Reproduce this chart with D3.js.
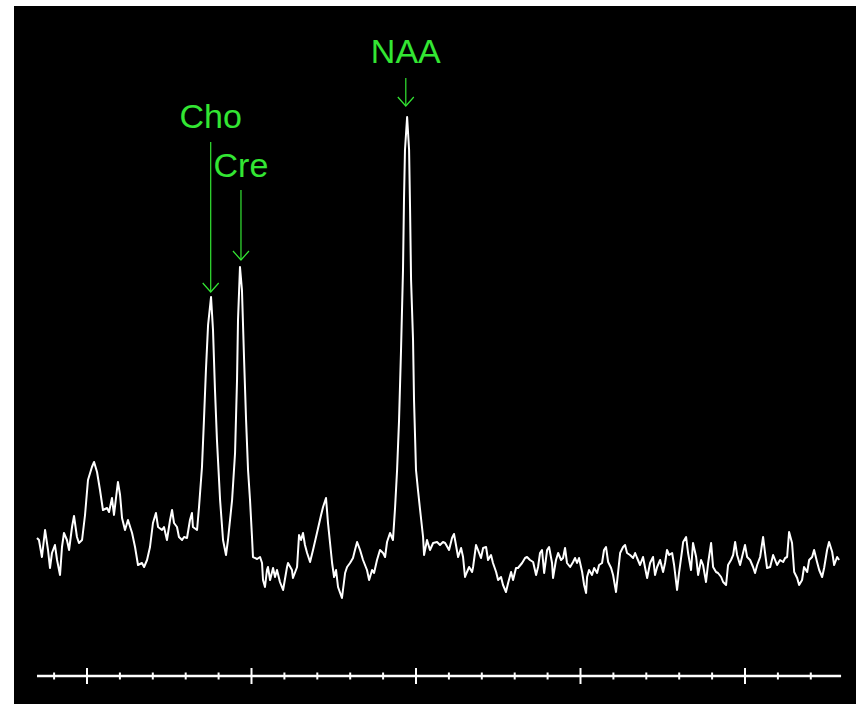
<!DOCTYPE html>
<html lang="en">

<head>
	<script src='https://d3js.org/d3.v7.min.js'></script>
</head>

<body>
	<style>
		body {
			margin: 0;
			background-color: white;
		}
		svg {
			display: block;
		}
	</style>
	<script>
    // MR spectrum, chemical shift in ppm, intensity in arbitrary units
    var shiftPpm = [
        4.304, 4.292, 4.274, 4.255, 4.237, 4.225, 4.213, 4.195, 4.182, 4.164,
        4.152, 4.140, 4.122, 4.109, 4.091, 4.079, 4.061, 4.049, 4.030, 4.012,
        3.994, 3.970, 3.957, 3.939, 3.921, 3.903, 3.878, 3.866, 3.848, 3.836,
        3.818, 3.812, 3.799, 3.787, 3.769, 3.751, 3.726, 3.708, 3.690, 3.666,
        3.653, 3.635, 3.617, 3.599, 3.581, 3.568, 3.544, 3.532, 3.514, 3.495,
        3.483, 3.471, 3.453, 3.441, 3.422, 3.410, 3.392, 3.374, 3.362, 3.356,
        3.331, 3.319, 3.301, 3.289, 3.277, 3.264, 3.246, 3.234, 3.222, 3.210,
        3.191, 3.173, 3.155, 3.143, 3.118, 3.100, 3.088, 3.082, 3.070, 3.058,
        3.045, 3.033, 3.021, 3.009, 2.997, 2.991, 2.966, 2.948, 2.936, 2.930,
        2.918, 2.906, 2.900, 2.887, 2.869, 2.857, 2.845, 2.827, 2.808, 2.784,
        2.778, 2.754, 2.748, 2.723, 2.711, 2.699, 2.687, 2.675, 2.662, 2.644,
        2.626, 2.602, 2.577, 2.565, 2.547, 2.535, 2.510, 2.498, 2.486, 2.474,
        2.450, 2.444, 2.431, 2.419, 2.401, 2.383, 2.371, 2.358, 2.340, 2.322,
        2.298, 2.285, 2.267, 2.255, 2.237, 2.219, 2.200, 2.188, 2.176, 2.158,
        2.140, 2.127, 2.115, 2.103, 2.091, 2.079, 2.073, 2.067, 2.054, 2.042,
        2.036, 2.030, 2.018, 2.012, 2.000, 1.988, 1.975, 1.957, 1.951, 1.933,
        1.915, 1.896, 1.872, 1.854, 1.836, 1.823, 1.799, 1.781, 1.769, 1.757,
        1.744, 1.726, 1.714, 1.702, 1.690, 1.677, 1.659, 1.653, 1.635, 1.623,
        1.605, 1.592, 1.574, 1.562, 1.544, 1.532, 1.513, 1.501, 1.483, 1.471,
        1.453, 1.440, 1.422, 1.410, 1.392, 1.380, 1.355, 1.337, 1.325, 1.307,
        1.288, 1.270, 1.258, 1.246, 1.234, 1.221, 1.203, 1.191, 1.173, 1.167,
        1.149, 1.136, 1.118, 1.106, 1.094, 1.082, 1.063, 1.045, 1.033, 1.021,
        1.009, 0.990, 0.978, 0.966, 0.960, 0.948, 0.930, 0.917, 0.899, 0.887,
        0.869, 0.857, 0.845, 0.832, 0.814, 0.802, 0.784, 0.772, 0.759, 0.741,
        0.729, 0.717, 0.699, 0.680, 0.668, 0.656, 0.638, 0.620, 0.607, 0.595,
        0.577, 0.559, 0.547, 0.534, 0.516, 0.498, 0.486, 0.474, 0.461, 0.443,
        0.431, 0.413, 0.401, 0.382, 0.376, 0.358, 0.346, 0.328, 0.316, 0.297,
        0.285, 0.267, 0.255, 0.237, 0.224, 0.206, 0.194, 0.176, 0.164, 0.145,
        0.133, 0.115, 0.103, 0.085, 0.072, 0.060, 0.048, 0.030, 0.012, 0.000,
        -0.013, -0.031, -0.049, -0.061, -0.074, -0.092, -0.110, -0.122, -0.134, -0.153,
        -0.171, -0.183, -0.195, -0.213, -0.232, -0.244, -0.256, -0.268, -0.286, -0.299,
        -0.317, -0.329, -0.347, -0.359, -0.378, -0.390, -0.408, -0.420, -0.438, -0.451,
        -0.469, -0.481, -0.499, -0.511, -0.530, -0.542, -0.560, -0.572
    ];
    var intensity = [
        10.2, 10.0, 8.3, 11.0, 9.0, 7.2, 8.7, 9.5, 8.0, 6.5,
        9.3, 10.7, 10.0, 9.0, 11.3, 12.4, 10.3, 9.7, 10.0, 12.5,
        16.0, 17.3, 17.8, 16.8, 15.0, 13.0, 13.2, 12.8, 14.2, 12.5,
        15.0, 15.8, 14.5, 12.2, 11.0, 12.0, 10.7, 9.3, 7.5, 7.7,
        7.3, 8.0, 9.3, 11.7, 12.7, 11.3, 11.0, 11.3, 10.0, 12.0,
        13.0, 11.7, 11.3, 10.3, 10.0, 10.3, 10.2, 12.0, 12.7, 11.3,
        11.0, 13.3, 17.3, 22.0, 27.0, 31.5, 34.3, 31.0, 25.0, 20.0,
        14.0, 10.0, 8.5, 10.0, 14.0, 18.7, 26.0, 32.0, 37.3, 35.0,
        28.0, 22.0, 17.0, 14.0, 10.3, 8.3, 8.1, 8.3, 7.7, 6.0,
        5.3, 7.0, 7.3, 6.0, 7.2, 6.3, 7.0, 5.8, 5.0, 7.3,
        7.7, 7.0, 6.2, 7.3, 10.5, 10.0, 10.7, 9.5, 8.7, 7.8,
        9.0, 10.7, 12.5, 13.3, 14.2, 11.7, 7.7, 6.3, 7.0, 5.3,
        4.2, 5.0, 6.7, 7.3, 7.7, 8.2, 9.0, 9.8, 9.0, 8.0,
        7.0, 6.0, 7.0, 6.7, 8.0, 9.0, 8.7, 8.3, 9.8, 10.7,
        10.0, 13.3, 17.0, 22.0, 29.0, 37.0, 44.0, 49.0, 52.3, 49.0,
        43.0, 36.0, 30.0, 24.0, 17.0, 15.0, 13.0, 10.3, 8.5, 10.0,
        9.0, 9.7, 9.8, 9.5, 9.8, 9.7, 9.0, 10.2, 10.6, 9.5,
        8.3, 9.2, 8.3, 6.3, 6.8, 7.3, 6.8, 7.3, 9.5, 9.0,
        8.2, 9.2, 9.3, 8.0, 8.5, 7.7, 6.8, 6.0, 6.3, 5.5,
        4.8, 5.7, 6.8, 6.0, 7.2, 7.2, 7.7, 8.2, 8.3, 8.0,
        7.8, 6.5, 7.3, 8.7, 9.0, 6.7, 9.0, 9.3, 7.7, 6.2,
        8.0, 8.7, 8.0, 8.2, 9.2, 7.7, 7.3, 7.8, 8.2, 7.7,
        8.2, 6.8, 5.5, 4.7, 6.3, 7.0, 6.5, 7.2, 6.7, 7.5,
        7.7, 9.0, 9.3, 7.8, 7.2, 6.5, 4.8, 6.7, 8.7, 9.3,
        9.5, 8.7, 8.5, 8.2, 8.7, 8.2, 7.5, 8.3, 7.2, 6.2,
        7.7, 8.3, 6.5, 7.3, 8.0, 6.8, 7.7, 9.0, 8.5, 8.7,
        7.5, 5.0, 6.7, 9.0, 9.8, 10.3, 8.7, 7.0, 9.7, 8.3,
        6.5, 8.0, 7.5, 5.8, 7.7, 9.7, 7.3, 6.8, 6.7, 6.3,
        5.8, 5.5, 7.5, 8.0, 8.5, 9.8, 8.5, 7.5, 8.7, 9.5,
        8.3, 8.0, 7.3, 6.7, 7.5, 8.3, 10.3, 8.7, 7.2, 7.3,
        8.5, 8.0, 7.5, 8.0, 7.8, 8.2, 8.3, 10.8, 9.7, 6.8,
        6.2, 5.5, 6.0, 7.3, 6.8, 8.0, 8.3, 9.0, 7.8, 7.0,
        6.3, 7.2, 9.0, 9.8, 8.8, 7.5, 8.3, 8.0
    ];

    // peak annotations
    var peakNames = ["Cho", "Cre", "NAA"];
    var peakPpm = [3.248, 3.064, 2.062];
    var arrowTip = [34.8, 38.0, 53.4];
    var arrowTail = [49.8, 45.0, 56.2];
    var labelLevel = [51.2, 46.3, 57.7];

    // axis ticks (ppm)
    var majorTicks = [4, 3, 2, 1, 0];
    var minorTicks = [4.2, 3.8, 3.6, 3.4, 3.2, 2.8, 2.6, 2.4, 2.2, 1.8, 1.6, 1.4, 1.2, 0.8, 0.6, 0.4, 0.2, -0.2, -0.4];
    var axisRange = [4.304, -0.584];

    var width = 856;
    var height = 704;
    var green = "#33e633";

    var svg = d3.select("body").append("svg")
        .attr("width", width)
        .attr("height", height);

    svg.append("rect")
        .attr("x", 14)
        .attr("y", 6)
        .attr("width", width - 14)
        .attr("height", height - 6)
        .style("fill", "black");

    var x = d3.scaleLinear()
        .domain([4, 0])
        .range([87, 745]);

    var y = d3.scaleLinear()
        .domain([0, 60])
        .range([640, 40]);

    var axisY = 676;

    // ppm axis
    svg.append("line")
        .attr("x1", x(axisRange[0]))
        .attr("x2", x(axisRange[1]))
        .attr("y1", axisY)
        .attr("y2", axisY)
        .style("stroke", "white")
        .style("stroke-width", 2.5);

    svg.append("g")
        .selectAll("line")
        .data(majorTicks)
        .enter()
        .append("line")
        .attr("x1", function (d) { return x(d); })
        .attr("x2", function (d) { return x(d); })
        .attr("y1", axisY - 8)
        .attr("y2", axisY + 8)
        .style("stroke", "white")
        .style("stroke-width", 2);

    svg.append("g")
        .selectAll("line")
        .data(minorTicks)
        .enter()
        .append("line")
        .attr("x1", function (d) { return x(d); })
        .attr("x2", function (d) { return x(d); })
        .attr("y1", axisY - 3.5)
        .attr("y2", axisY + 3.5)
        .style("stroke", "white")
        .style("stroke-width", 2);

    // spectrum
    var points = shiftPpm.map(function (d, i) { return [d, intensity[i]]; });
    var line = d3.line()
        .x(function (d) { return x(d[0]); })
        .y(function (d) { return y(d[1]); });

    svg.append("path")
        .datum(points)
        .attr("d", line)
        .style("fill", "none")
        .style("stroke", "white")
        .style("stroke-width", 2)
        .style("stroke-linejoin", "round");

    // labels and arrows
    for (var i = 0; i < peakNames.length; i++) {
        var px = x(peakPpm[i]);
        var tip = y(arrowTip[i]);
        svg.append("line")
            .attr("x1", px).attr("x2", px)
            .attr("y1", y(arrowTail[i])).attr("y2", tip)
            .style("stroke", green)
            .style("stroke-width", 1.2);
        svg.append("path")
            .attr("d", "M" + (px - 8) + "," + (tip - 9) + "L" + px + "," + tip + "L" + (px + 8) + "," + (tip - 9))
            .style("fill", "none")
            .style("stroke", green)
            .style("stroke-width", 1.2);
        svg.append("text")
            .attr("x", px)
            .attr("y", y(labelLevel[i]))
            .attr("text-anchor", "middle")
            .text(peakNames[i])
            .style("font-family", "Liberation Sans, Arial")
            .style("font-size", "34px")
            .style("fill", green);
    }
	</script>
</body>

</html>
